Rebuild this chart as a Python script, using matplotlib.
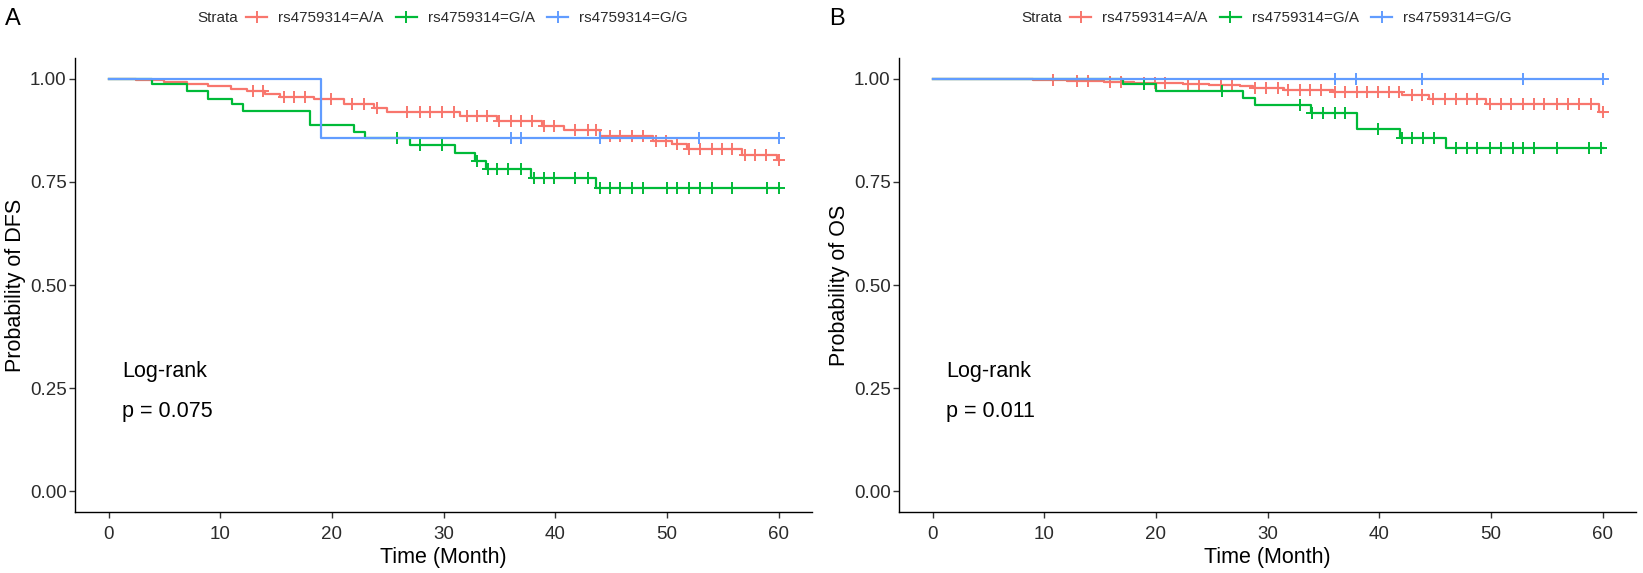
import matplotlib
matplotlib.use('Agg')
import matplotlib.pyplot as plt
from matplotlib.lines import Line2D
import numpy as np

plt.rcParams['font.family'] = ['Liberation Sans', 'DejaVu Sans']

# ---- data (KM step points + censor times) ----
strata = ['rs4759314=A/A', 'rs4759314=G/A', 'rs4759314=G/G']
colors = ['#F8766D', '#00BA38', '#619CFF']

# panel A: DFS
dfs_aa_t = [0, 0.8, 2.5, 5.0, 7.0, 8.9, 11.0, 12.4, 14.0, 15.4, 18.4, 21.1, 23.8, 24.9,
            31.5, 34.8, 38.8, 40.8, 44.0, 48.8, 50.5, 51.8, 56.7, 59.9]
dfs_aa_s = [1.0, 0.998, 0.996, 0.993, 0.986, 0.981, 0.976, 0.970, 0.962, 0.955, 0.950, 0.938,
            0.928, 0.920, 0.909, 0.897, 0.885, 0.875, 0.862, 0.850, 0.841, 0.830, 0.814, 0.804]
dfs_aa_cens = [12.9, 13.8, 15.7, 16.6, 17.6, 19.0, 19.9, 21.8, 22.9, 24.0, 26.7, 27.9, 28.8,
               29.9, 30.9, 32.1, 33.0, 33.9, 35.0, 36.0, 36.9, 37.9, 39.0, 39.9, 41.8, 42.9,
               43.7, 44.9, 45.8, 46.9, 47.9, 49.0, 49.9, 50.9, 52.0, 53.0, 54.0, 54.9, 55.8,
               57.0, 57.9, 58.9, 60.0]

dfs_ga_t = [0, 3.9, 7.0, 8.9, 11.1, 12.0, 18.0, 22.0, 23.0, 27.0, 31.0, 32.8, 33.8, 37.8, 43.7]
dfs_ga_s = [1.0, 0.988, 0.970, 0.951, 0.938, 0.921, 0.888, 0.871, 0.856, 0.839, 0.821,
            0.801, 0.782, 0.760, 0.735]
dfs_ga_cens = [19.0, 25.8, 27.9, 29.9, 33.0, 34.0, 34.8, 35.8, 36.9, 38.1, 39.0, 39.9, 41.8,
               42.9, 44.0, 44.9, 45.8, 46.9, 47.9, 50.0, 50.9, 52.0, 53.0, 54.0, 55.8, 59.0, 60.0]

dfs_gg_t = [0, 19.0]
dfs_gg_s = [1.0, 0.857]
dfs_gg_cens = [36.0, 36.9, 44.0, 52.9, 60.0]

# panel B: OS
os_aa_t = [0, 9.0, 12.0, 15.4, 18.0, 22.4, 24.8, 27.5, 28.7, 31.5, 35.9, 42.0, 44.5, 49.6, 59.7]
os_aa_s = [1.0, 0.997, 0.995, 0.992, 0.989, 0.986, 0.984, 0.981, 0.977, 0.972, 0.968, 0.960,
           0.950, 0.938, 0.918]
os_aa_cens = [10.8, 12.9, 13.9, 15.9, 16.9, 18.9, 19.9, 20.8, 22.9, 23.9, 25.8, 26.8, 28.9,
              29.9, 30.9, 31.8, 32.9, 33.8, 34.8, 36.0, 36.9, 38.0, 38.9, 39.9, 40.9, 41.8,
              42.9, 43.8, 44.8, 45.9, 46.9, 47.9, 48.8, 49.9, 50.9, 51.8, 52.9, 53.9, 54.8,
              55.9, 56.9, 57.9, 59.0, 60.0]

os_ga_t = [0, 17.1, 20.0, 27.8, 28.9, 33.9, 38.0, 41.9, 46.0]
os_ga_s = [1.0, 0.988, 0.970, 0.952, 0.935, 0.916, 0.879, 0.857, 0.833]
os_ga_cens = [18.9, 25.9, 32.9, 34.0, 35.0, 36.0, 36.9, 39.9, 42.0, 42.9, 43.9, 44.9, 46.9,
              47.9, 48.8, 49.9, 50.9, 52.0, 52.9, 53.9, 55.9, 58.8, 59.9]

os_gg_t = [0]
os_gg_s = [1.0]
os_gg_cens = [36.0, 37.9, 43.8, 52.9, 60.0]

panels = [
    ('A', 'Probability of DFS', 'p = 0.075',
     [(dfs_aa_t, dfs_aa_s, dfs_aa_cens), (dfs_ga_t, dfs_ga_s, dfs_ga_cens),
      (dfs_gg_t, dfs_gg_s, dfs_gg_cens)]),
    ('B', 'Probability of OS', 'p = 0.011',
     [(os_aa_t, os_aa_s, os_aa_cens), (os_ga_t, os_ga_s, os_ga_cens),
      (os_gg_t, os_gg_s, os_gg_cens)]),
]

W, H = 1643, 573
fig = plt.figure(figsize=(W / 100, H / 100), dpi=100)

ax_lefts = [75, 899]
ax_w = 737
ax_bottom, ax_top = 512, 58
txt_col = '#2b2b2b'

for left, (tag, ylab, ptxt, series) in zip(ax_lefts, panels):
    ax = fig.add_axes([left / W, (H - ax_bottom) / H, ax_w / W, (ax_bottom - ax_top) / H])
    for (t, s, cens), col in zip(series, colors):
        t = np.asarray(t, float)
        s = np.asarray(s, float)
        ax.step(np.append(t, 60), np.append(s, s[-1]), where='post', color=col, lw=1.6)
        c = np.asarray(cens, float)
        sc = s[np.searchsorted(t, c, side='right') - 1]
        ax.plot(c, sc, ls='none', marker='+', ms=8, mew=1.4, color=col)

    ax.set_xlim(-3, 63)
    ax.set_ylim(-0.05, 1.05)
    ax.set_xticks(np.arange(0, 61, 10))
    ax.set_yticks([0, 0.25, 0.5, 0.75, 1.0])
    ax.set_yticklabels(['0.00', '0.25', '0.50', '0.75', '1.00'])
    for sp in ['top', 'right']:
        ax.spines[sp].set_visible(False)
    for sp in ['left', 'bottom']:
        ax.spines[sp].set_linewidth(1.0)
        ax.spines[sp].set_color('black')
    ax.tick_params(axis='both', length=4, width=1.0, color='#333333',
                   labelsize=13.5, labelcolor=txt_col)
    ax.tick_params(axis='x', pad=6)
    ax.tick_params(axis='y', pad=2)

    ax.set_xlabel('Time (Month)', fontsize=15.5, color='black')
    ax.xaxis.set_label_coords(0.5, (ax_bottom - 557) / (ax_bottom - ax_top))
    ax.xaxis.label.set_verticalalignment('center')
    ax.set_ylabel('Probability of DFS' if tag == 'A' else 'Probability of OS',
                  fontsize=15.5, color='black')
    ax.yaxis.set_label_coords((16 - 75) / ax_w, 0.5)
    ax.yaxis.label.set_verticalalignment('center')

    ax.text(1.2, 0.291, 'Log-rank', fontsize=15.5, va='center', ha='left', color='black')
    ax.text(1.2, 0.194, ptxt, fontsize=15.5, va='center', ha='left', color='black')

    # panel tag and legend on top
    fig.text((left - 70) / W, 1 - 19 / H, tag, fontsize=17, va='center', ha='left')
    fig.text((left + 122) / W, 1 - 18 / H, 'Strata', fontsize=11, va='center', ha='left',
             color=txt_col)
    handles = [Line2D([], [], color=col, lw=1.6, marker='+', ms=8, mew=1.4) for col in colors]
    fig.legend(handles, strata, loc='center left', ncol=3, frameon=False,
               bbox_to_anchor=((left + 171) / W, 1 - 18 / H), fontsize=11,
               handlelength=1.4, handletextpad=0.7, columnspacing=0.8,
               borderpad=0, borderaxespad=0, labelcolor=txt_col)

fig.savefig('out.png', dpi=100)
